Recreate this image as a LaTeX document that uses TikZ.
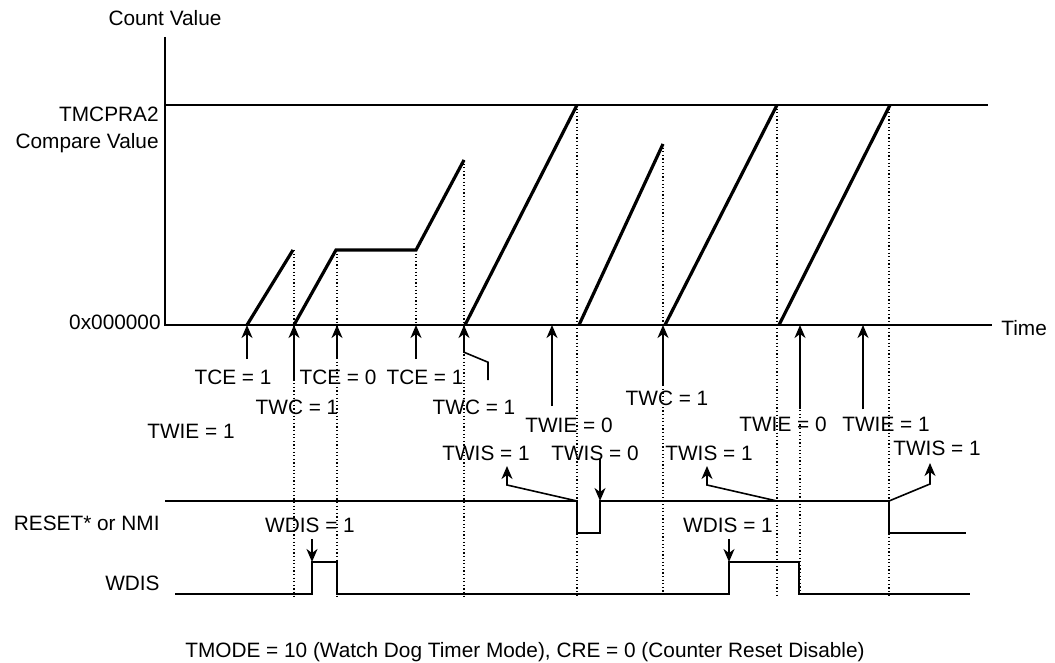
\documentclass[tikz,border=0pt]{standalone}
\usepackage{fontspec}
\setmainfont{Liberation Sans}
\usetikzlibrary{arrows.meta,calc,positioning}

\begin{document}
\begin{tikzpicture}[x=0.5pt,y=-0.5pt,
    lbl/.style={inner sep=0pt,font=\fontsize{10.4}{13.3}\selectfont},
    axis/.style={line width=1pt},
    ramp/.style={line width=1.6pt},
    guide/.style={line width=0.6pt,dash pattern=on 0.6pt off 1.2pt},
    sig/.style={line width=0.8pt},
    evt/.style={line width=0.8pt,-{Stealth[length=6.5pt,width=5.5pt,inset=2pt]}}]
\useasboundingbox (0,0) rectangle (1055,663);

% Draw axes
\draw[axis] (165,37) -- (165,325) -- (992,325);
\draw[axis] (165,105) -- (988,105);
\node[lbl] (cnt) at (165,18) {Count Value};
\node[lbl,anchor=east,align=right] (cmp) at (159,130) {TMCPRA2\\Compare Value};
\node[lbl,anchor=east] (zero) at (161,322) {0x000000};
\node[lbl,anchor=west] (time) at (1001,328) {Time};

% Points on the time axis
\foreach \n/\x in {t1/247,t2/294,t3/337,t4/416,t5/464,t6/552,t9/663,t12/800,t13/863}
    \coordinate (\n) at (\x,325);

% Count value
\draw[ramp] (247,325) -- (293,250);
\draw[ramp] (294,325) -- (336,250) -- (416,250) -- (464,160);
\draw[ramp] (465,325) -- (577,105);
\draw[ramp] (579,325) -- (663,144);
\draw[ramp] (665,325) -- (777,105);
\draw[ramp] (779,325) -- (890,105);

% Dotted guides
\foreach \x/\y in {294/250,337/250,464/160,577/105,663/144,777/105,800/410,889/105}
    \draw[guide] (\x,\y) -- (\x,596);
\draw[guide] (416,250) -- (416,325);

% Register writes
\node[lbl] (tceA) at (233,377) {TCE = 1};
\node[lbl] (tceB) at (338,377) {TCE = 0};
\node[lbl] (tceC) at (425,377) {TCE = 1};
\node[lbl] (twcA) at (297,407) {TWC = 1};
\node[lbl] (twcB) at (474,407) {TWC = 1};
\node[lbl] (twcC) at (667,398) {TWC = 1};
\node[lbl] (twieA) at (191,431) {TWIE = 1};
\node[lbl] (twieB) at (569,425) {TWIE = 0};
\node[lbl] (twieC) at (783,424) {TWIE = 0};
\node[lbl] (twieD) at (886,424) {TWIE = 1};
\draw[evt] ($(tceA.north -| t1)+(0,-10)$) -- (t1);
\draw[evt] ($(tceB.north -| t3)+(0,-10)$) -- (t3);
\draw[evt] ($(tceC.north -| t4)+(0,-10)$) -- (t4);
\draw[evt] ($(twcA.north -| t2)+(0,-19)$) -- (t2);
\draw[evt] ($(twcB.north)+(14,-19)$) -- ++(0,-18) -- ++(-24,-10) -- (t5);
\draw[evt] ($(twcC.north -| t9)+(0,-4)$) -- (t9);
\draw[evt] ($(twieB.north -| t6)+(0,-11)$) -- (t6);
\draw[evt] ($(twieC.north -| t12)+(0,-7)$) -- (t12);
\draw[evt] ($(twieD.north -| t13)+(0,-7)$) -- (t13);

% RESET* or NMI
\node[lbl,anchor=east] (rst) at (160,523) {RESET* or NMI};
\coordinate (r1) at (577,501);
\coordinate (r2) at (600,501);
\coordinate (r3) at (777,501);
\coordinate (r4) at (889,501);
\draw[sig] (165,501) -- (r1) -- (577,533) -- (600,533) -- (r2) -- (r4) -- (889,533) -- (966,533);
\node[lbl] (twisA) at (486,453) {TWIS = 1};
\node[lbl] (twisB) at (595,453) {TWIS = 0};
\node[lbl] (twisC) at (709,453) {TWIS = 1};
\node[lbl] (twisD) at (937,448) {TWIS = 1};
\draw[evt] (r1) -- ++(-70,-16) -- ++(0,-19);
\draw[evt] ($(twisB.south -| r2)+(0,-2)$) -- (r2);
\draw[evt] (r3) -- ++(-70,-16) -- ++(0,-19);
\draw[evt] (r4) -- ++(41,-17) -- ++(0,-21);

% WDIS
\node[lbl,anchor=east] (wd) at (160,583) {WDIS};
\coordinate (w1) at (312,562);
\coordinate (w2) at (729,562);
\draw[sig] (175,594) -- (312,594) -- (w1) -- (337,562) -- (337,594) -- (729,594) -- (w2) -- (799,562) -- (799,594) -- (970,594);
\node[lbl] (wdisA) at (310,525) {WDIS = 1};
\node[lbl] (wdisB) at (728,525) {WDIS = 1};
\draw[evt] ($(wdisA.south -| w1)+(0,6)$) -- (w1);
\draw[evt] ($(wdisB.south -| w2)+(0,6)$) -- (w2);

\node[lbl] (mode) at (525,652) {TMODE = 10 (Watch Dog Timer Mode), CRE = 0 (Counter Reset Disable)};
\end{tikzpicture}
\end{document}
